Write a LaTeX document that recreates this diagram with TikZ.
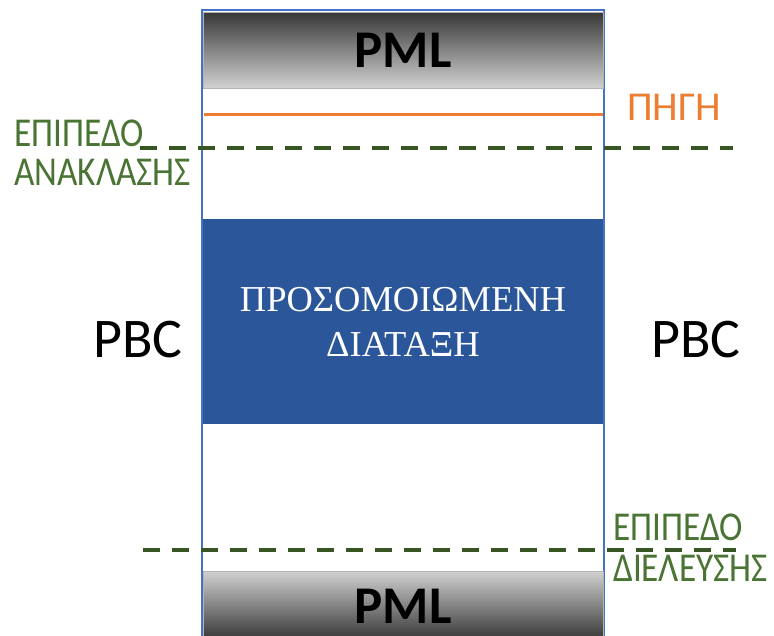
\documentclass[tikz,border=0pt]{standalone}
\usepackage{fontspec}
\setmainfont{Carlito}
\newfontfamily\timesfont{Liberation Serif}
\newfontfamily\narrowfont[FakeStretch=0.86]{Carlito}
\usetikzlibrary{positioning}
\definecolor{edgeblue}{HTML}{4472C4}
\definecolor{deviceblue}{HTML}{2B579A}
\definecolor{srcorange}{HTML}{ED7D31}
\definecolor{planegreen}{HTML}{375623}
\definecolor{labelgreen}{HTML}{4A7433}

\begin{document}
\begin{tikzpicture}[x=1pt,y=-1pt,
    pml/.style={draw=gray!60, minimum width=400pt, minimum height=#1, inner sep=0pt,
      font=\bfseries\fontsize{53}{53}\selectfont},
    plane/.style={planegreen, line width=4pt, dash pattern=on 17pt off 12pt},
    planelabel/.style={labelgreen, inner sep=0pt, anchor=west, font=\narrowfont\fontsize{41}{41}\selectfont},
    pbc/.style={inner sep=0pt, font=\fontsize{56}{56}\selectfont}]
  \useasboundingbox (0,0) rectangle (774,635);

  % computational domain
  \node[draw=edgeblue, line width=1.2pt, minimum width=402pt, minimum height=640pt, inner sep=0pt] (domain) at (403,330) {};

  % absorbing layers
  \node[pml=76pt, top color=black!78, bottom color=black!18] (pmltop) at (403,50) {PML};
  \node[pml=70pt, top color=black!18, bottom color=black!80] (pmlbot) at (403,606) {PML};

  % structure under test
  \node[fill=deviceblue, minimum width=400pt, minimum height=205pt, inner sep=0pt, align=center,
    text=white, font=\timesfont\fontsize{36.5}{45}\selectfont] (device) at (403,321.5)
    {ΠΡΟΣΟΜΟΙΩΜΕΝΗ\\ΔΙΑΤΑΞΗ};

  % source
  \coordinate (srcL) at (204,114);
  \coordinate (srcR) at (603,114);
  \draw[srcorange, line width=3pt] (srcL) -- (srcR);
  \node[srcorange, inner sep=0pt, font=\fontsize{41}{41}\selectfont] (src) at (674,107) {ΠΗΓΗ};

  % reflection plane
  \coordinate (reflL) at (140,148);
  \coordinate (reflR) at (733,148);
  \draw[plane] (reflL) -- (reflR);
  \node[planelabel] (refl1) at (14,133) {ΕΠΙΠΕΔΟ};
  \node[planelabel] (refl2) at (14,172) {ΑΝΑΚΛΑΣΗΣ};

  % transmission plane
  \coordinate (transL) at (143,550);
  \coordinate (transR) at (736,550);
  \draw[plane] (transL) -- (transR);
  \node[planelabel] (trans1) at (613,527) {ΕΠΙΠΕΔΟ};
  \node[planelabel] (trans2) at (613,568) {ΔΙΕΛΕΥΣΗΣ};

  % periodic boundaries
  \node[pbc] (pbcL) at (138,340) {PBC};
  \node[pbc] (pbcR) at (696,340) {PBC};
\end{tikzpicture}
\end{document}
